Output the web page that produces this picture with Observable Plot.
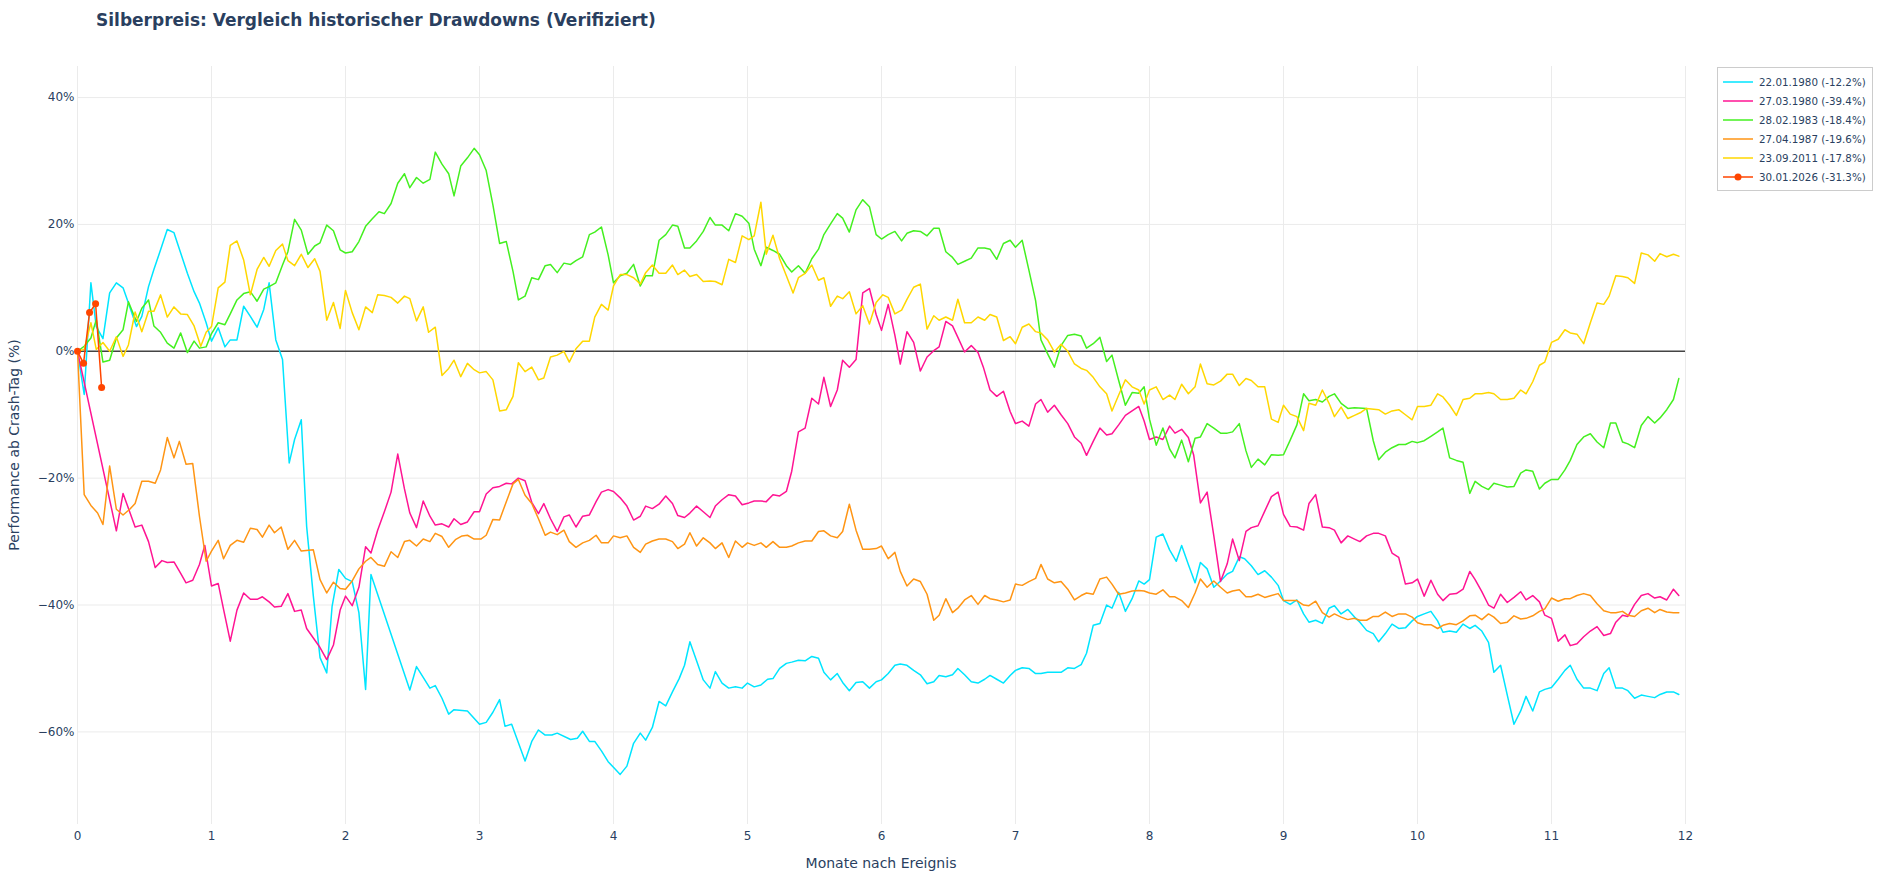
<!DOCTYPE html>
<html>
<head>
<meta charset="utf-8">
<script src="https://cdn.jsdelivr.net/npm/d3@7"></script>
<script src="https://cdn.jsdelivr.net/npm/@observablehq/plot@0.6"></script>
<style>
  html, body { margin: 0; padding: 0; background: #fff; overflow: hidden; }
  #wrap { position: relative; width: 1887px; height: 878px; font-family: "DejaVu Sans", Verdana, sans-serif; color: #2a3f5f; }
  #title { position: absolute; left: 96px; top: 12px; font-size: 17px; font-weight: bold; line-height: 17px; white-space: nowrap; }
  #xtitle { position: absolute; left: 881px; top: 863px; transform: translate(-50%, -50%); font-size: 14px; white-space: nowrap; }
  #ytitle { position: absolute; left: 14px; top: 445px; transform: translate(-50%, -50%) rotate(-90deg); font-size: 14px; white-space: nowrap; }
  #legend { position: absolute; left: 1717px; top: 67px; width: 154px; height: 122px; border: 1px solid #cccccc; background: #fff; font-size: 10.3px; }
  .item { position: absolute; left: 5px; height: 19px; display: flex; align-items: center; white-space: nowrap; }
  .item svg { margin-right: 6px; }
</style>
</head>
<body>
<div id="wrap">
  <div id="chart"></div>
  <div id="title">Silberpreis: Vergleich historischer Drawdowns (Verifiziert)</div>
  <div id="xtitle">Monate nach Ereignis</div>
  <div id="ytitle">Performance ab Crash-Tag (%)</div>
  <div id="legend"></div>
</div>
<script>
const seriesNames = ["22.01.1980 (-12.2%)", "27.03.1980 (-39.4%)", "28.02.1983 (-18.4%)", "27.04.1987 (-19.6%)", "23.09.2011 (-17.8%)", "30.01.2026 (-31.3%)"];
const seriesColors = ["#00e5ff", "#ff1493", "#44f020", "#ff9514", "#ffd700", "#ff4500"];
const xTicks = [0,1,2,3,4,5,6,7,8,9,10,11,12];
const yTicks = [-60,-40,-20,0,20,40];

// [month, performance %]
const s1980a = [[0,0],[0.05,-6.8],[0.1,10.8],[0.14,3.9],[0.19,2.0],[0.24,9.2],[0.29,10.8],[0.34,10.0],[0.38,7.6],[0.44,3.9],[0.48,5.5],[0.53,10.2],[0.57,12.9],[0.62,16.0],[0.67,19.2],[0.72,18.7],[0.77,15.5],[0.82,12.3],[0.87,9.4],[0.91,7.6],[0.96,4.5],[1.0,1.6],[1.05,3.7],[1.1,0.7],[1.14,1.8],[1.19,1.8],[1.24,7.1],[1.29,5.5],[1.34,3.8],[1.39,6.6],[1.43,10.8],[1.48,1.8],[1.53,-1.3],[1.58,-17.6],[1.62,-13.9],[1.67,-10.8],[1.71,-27.6],[1.76,-38.6],[1.81,-48.3],[1.86,-50.7],[1.9,-40.2],[1.95,-34.4],[2.0,-35.8],[2.05,-36.3],[2.1,-41.2],[2.15,-53.3],[2.19,-35.2],[2.48,-53.4],[2.53,-49.7],[2.63,-53.1],[2.67,-52.7],[2.72,-54.7],[2.77,-57.2],[2.81,-56.5],[2.91,-56.7],[3.0,-58.8],[3.05,-58.5],[3.1,-56.9],[3.15,-54.9],[3.19,-59.1],[3.24,-58.8],[3.34,-64.6],[3.39,-61.5],[3.44,-59.7],[3.49,-60.5],[3.54,-60.5],[3.58,-60.2],[3.68,-61.2],[3.73,-61.0],[3.77,-59.9],[3.82,-61.5],[3.86,-61.5],[3.91,-63.0],[3.96,-64.7],[4.01,-65.8],[4.05,-66.7],[4.1,-65.4],[4.15,-61.8],[4.2,-60.2],[4.24,-61.3],[4.29,-59.3],[4.34,-55.2],[4.39,-55.9],[4.44,-53.7],[4.49,-51.6],[4.53,-49.5],[4.57,-45.8],[4.62,-48.8],[4.67,-51.8],[4.72,-53.1],[4.76,-50.5],[4.81,-52.3],[4.86,-53.1],[4.91,-52.9],[4.96,-53.1],[5.0,-52.3],[5.05,-52.9],[5.1,-52.6],[5.15,-51.7],[5.19,-51.6],[5.24,-50.0],[5.29,-49.2],[5.33,-49.0],[5.38,-48.7],[5.43,-48.8],[5.48,-48.1],[5.53,-48.4],[5.57,-50.6],[5.62,-51.8],[5.67,-50.8],[5.71,-52.2],[5.76,-53.5],[5.81,-52.2],[5.86,-52.1],[5.91,-53.1],[5.96,-52.1],[6.0,-51.8],[6.05,-50.8],[6.1,-49.5],[6.14,-49.3],[6.19,-49.5],[6.24,-50.3],[6.29,-51.0],[6.34,-52.4],[6.39,-52.1],[6.43,-51.1],[6.48,-51.3],[6.53,-51.0],[6.57,-50.0],[6.62,-51.0],[6.67,-52.1],[6.72,-52.3],[6.77,-51.7],[6.81,-51.1],[6.86,-51.7],[6.91,-52.3],[6.96,-51.1],[7.0,-50.3],[7.05,-49.9],[7.1,-50.0],[7.15,-50.8],[7.19,-50.8],[7.24,-50.6],[7.29,-50.6],[7.34,-50.6],[7.39,-49.9],[7.44,-50.0],[7.49,-49.4],[7.53,-47.6],[7.58,-43.2],[7.63,-42.9],[7.68,-40.0],[7.72,-40.5],[7.77,-38.0],[7.82,-41.0],[7.87,-39.0],[7.92,-36.2],[7.96,-36.7],[8.0,-36.0],[8.05,-29.3],[8.1,-28.8],[8.15,-31.3],[8.2,-33.1],[8.24,-30.6],[8.29,-33.6],[8.34,-36.5],[8.38,-33.3],[8.43,-34.3],[8.48,-37.2],[8.53,-36.2],[8.58,-35.1],[8.62,-34.7],[8.67,-32.4],[8.71,-32.7],[8.76,-33.8],[8.81,-35.2],[8.86,-34.6],[8.91,-35.6],[8.96,-36.9],[9.0,-39.3],[9.05,-39.9],[9.1,-39.2],[9.15,-41.4],[9.19,-42.7],[9.24,-42.4],[9.29,-42.9],[9.34,-40.5],[9.38,-40.1],[9.43,-41.4],[9.48,-40.7],[9.53,-41.9],[9.57,-42.7],[9.62,-44.0],[9.67,-44.5],[9.71,-45.8],[9.76,-44.5],[9.81,-43.0],[9.86,-43.7],[9.91,-43.6],[9.96,-42.5],[10.0,-41.8],[10.05,-41.4],[10.1,-41.0],[10.15,-42.5],[10.19,-44.3],[10.24,-44.1],[10.29,-44.3],[10.34,-43.0],[10.39,-43.7],[10.43,-43.2],[10.48,-44.1],[10.53,-45.9],[10.57,-50.6],[10.62,-49.5],[10.67,-54.2],[10.72,-58.8],[10.77,-56.7],[10.81,-54.4],[10.86,-56.7],[10.91,-53.7],[10.95,-53.3],[11.0,-53.0],[11.05,-51.7],[11.1,-50.3],[11.14,-49.5],[11.19,-51.7],[11.24,-53.1],[11.29,-53.1],[11.34,-53.5],[11.39,-50.8],[11.43,-49.9],[11.48,-53.1],[11.53,-53.1],[11.57,-53.5],[11.62,-54.7],[11.67,-54.2],[11.72,-54.4],[11.77,-54.6],[11.81,-54.1],[11.86,-53.7],[11.91,-53.7],[11.95,-54.1]];

const s1980b = [[0,0],[0.29,-28.3],[0.34,-22.4],[0.43,-27.7],[0.48,-27.4],[0.53,-30.0],[0.58,-34.1],[0.63,-33.0],[0.67,-33.3],[0.72,-33.2],[0.77,-35.0],[0.81,-36.5],[0.86,-36.1],[0.91,-33.6],[0.95,-30.6],[1.0,-37.0],[1.05,-36.6],[1.09,-40.7],[1.14,-45.7],[1.19,-40.8],[1.24,-38.1],[1.29,-39.1],[1.34,-39.1],[1.38,-38.7],[1.43,-39.5],[1.47,-40.3],[1.52,-40.2],[1.57,-38.2],[1.62,-41.0],[1.67,-40.8],[1.71,-43.7],[1.81,-46.7],[1.86,-48.6],[1.91,-46.3],[1.96,-40.8],[2.0,-38.6],[2.05,-40.1],[2.1,-37.2],[2.15,-30.8],[2.19,-31.8],[2.24,-28.2],[2.29,-25.3],[2.34,-22.2],[2.39,-16.2],[2.44,-21.7],[2.48,-25.5],[2.53,-27.8],[2.58,-23.6],[2.63,-26.0],[2.67,-27.4],[2.72,-27.2],[2.77,-27.7],[2.81,-26.4],[2.86,-27.3],[2.91,-26.9],[2.96,-25.3],[3.0,-25.3],[3.05,-22.5],[3.1,-21.5],[3.15,-21.3],[3.2,-20.8],[3.24,-20.9],[3.29,-20.0],[3.34,-20.4],[3.39,-23.8],[3.44,-25.6],[3.48,-24.0],[3.53,-26.4],[3.58,-28.4],[3.63,-26.1],[3.67,-25.8],[3.72,-27.7],[3.77,-26.0],[3.82,-25.8],[3.87,-23.7],[3.91,-22.2],[3.96,-21.8],[4.0,-22.1],[4.05,-23.1],[4.1,-24.4],[4.15,-26.6],[4.2,-26.0],[4.24,-24.4],[4.29,-24.8],[4.34,-24.1],[4.39,-22.8],[4.44,-24.0],[4.48,-25.9],[4.53,-26.2],[4.57,-25.5],[4.62,-24.4],[4.67,-25.3],[4.72,-26.2],[4.76,-24.4],[4.81,-23.4],[4.86,-22.6],[4.91,-22.8],[4.96,-24.2],[5.01,-23.9],[5.05,-23.6],[5.1,-23.6],[5.14,-23.7],[5.19,-22.6],[5.24,-22.8],[5.29,-22.1],[5.33,-18.9],[5.38,-12.7],[5.43,-12.1],[5.48,-7.4],[5.53,-8.3],[5.57,-4.1],[5.62,-8.7],[5.67,-6.1],[5.71,-1.4],[5.76,-2.5],[5.81,-1.3],[5.86,9.2],[5.91,9.9],[5.96,5.8],[6.0,3.3],[6.05,7.4],[6.1,2.5],[6.14,-2.0],[6.19,3.1],[6.24,1.4],[6.29,-3.1],[6.34,-0.9],[6.39,0.1],[6.43,0.7],[6.48,4.7],[6.53,4.0],[6.57,2.2],[6.62,-0.1],[6.67,0.9],[6.72,-0.2],[6.76,-2.5],[6.81,-6.1],[6.86,-7.1],[6.91,-6.3],[6.96,-9.5],[7.0,-11.4],[7.05,-11.0],[7.1,-11.8],[7.15,-8.3],[7.19,-7.6],[7.24,-9.6],[7.29,-8.5],[7.34,-10.0],[7.39,-11.4],[7.44,-13.5],[7.49,-14.5],[7.53,-16.4],[7.58,-14.2],[7.63,-12.1],[7.68,-13.2],[7.72,-13.0],[7.77,-11.6],[7.82,-10.1],[7.87,-9.4],[7.92,-8.7],[7.96,-11.0],[8.0,-13.9],[8.05,-13.5],[8.1,-13.9],[8.15,-11.8],[8.19,-12.9],[8.24,-12.3],[8.29,-13.6],[8.33,-16.4],[8.38,-23.9],[8.43,-22.2],[8.48,-29.1],[8.53,-36.3],[8.58,-33.5],[8.62,-29.6],[8.67,-33.0],[8.72,-28.4],[8.76,-27.8],[8.81,-27.5],[8.86,-25.2],[8.91,-22.9],[8.96,-22.2],[9.0,-25.7],[9.05,-27.6],[9.1,-27.7],[9.15,-28.2],[9.19,-24.0],[9.24,-22.6],[9.29,-27.7],[9.34,-27.8],[9.38,-28.2],[9.43,-30.2],[9.48,-29.1],[9.53,-29.6],[9.57,-30.0],[9.62,-29.1],[9.67,-28.7],[9.71,-28.7],[9.76,-29.1],[9.81,-31.8],[9.86,-32.5],[9.91,-36.7],[9.96,-36.5],[10.0,-35.9],[10.05,-38.6],[10.1,-36.1],[10.15,-38.3],[10.19,-39.3],[10.24,-38.3],[10.29,-38.2],[10.34,-37.5],[10.39,-34.7],[10.43,-36.0],[10.48,-37.9],[10.53,-40.0],[10.57,-40.5],[10.62,-38.3],[10.67,-39.6],[10.72,-38.8],[10.77,-37.9],[10.81,-39.2],[10.86,-38.5],[10.91,-39.5],[10.95,-41.6],[11.0,-42.1],[11.05,-45.7],[11.1,-44.7],[11.14,-46.4],[11.19,-46.1],[11.24,-45.0],[11.29,-44.1],[11.34,-43.4],[11.39,-44.8],[11.44,-44.5],[11.48,-42.7],[11.53,-41.6],[11.57,-41.8],[11.62,-39.9],[11.67,-38.5],[11.72,-38.2],[11.77,-38.9],[11.81,-38.7],[11.86,-39.2],[11.91,-37.5],[11.95,-38.5]];

const s1983 = [[0,0],[0.05,0.8],[0.1,2.1],[0.14,5.0],[0.19,-1.7],[0.24,-1.4],[0.29,2.1],[0.34,3.4],[0.38,7.8],[0.44,4.7],[0.48,6.8],[0.53,8.1],[0.57,4.0],[0.62,3.0],[0.67,1.3],[0.72,0.5],[0.77,2.9],[0.82,-0.2],[0.87,1.6],[0.91,0.5],[0.96,0.7],[1.0,2.8],[1.05,4.5],[1.1,4.2],[1.14,5.9],[1.19,8.1],[1.24,9.1],[1.29,9.4],[1.34,7.9],[1.39,9.8],[1.43,10.2],[1.48,10.8],[1.53,13.6],[1.57,15.7],[1.62,20.8],[1.67,19.1],[1.72,15.3],[1.77,16.6],[1.81,17.1],[1.86,19.9],[1.91,19.0],[1.96,16.0],[2.0,15.5],[2.05,15.7],[2.1,17.3],[2.15,19.7],[2.2,20.9],[2.25,22.0],[2.29,21.7],[2.34,23.3],[2.39,26.5],[2.44,28.0],[2.48,25.8],[2.53,27.4],[2.58,26.5],[2.63,27.1],[2.67,31.4],[2.72,29.5],[2.77,28.0],[2.81,24.5],[2.86,29.2],[2.91,30.5],[2.96,32.0],[3.0,31.0],[3.05,28.5],[3.1,23.1],[3.15,17.0],[3.2,17.3],[3.25,12.6],[3.29,8.1],[3.34,8.7],[3.39,11.6],[3.44,11.3],[3.49,13.5],[3.53,13.7],[3.58,12.4],[3.63,13.9],[3.68,13.7],[3.72,14.3],[3.77,14.9],[3.82,18.4],[3.86,18.8],[3.91,19.6],[3.96,15.2],[4.0,10.8],[4.05,11.9],[4.1,12.3],[4.15,13.7],[4.2,10.3],[4.24,11.9],[4.29,11.9],[4.34,17.5],[4.39,18.4],[4.44,19.9],[4.48,19.7],[4.53,16.3],[4.57,16.3],[4.62,17.4],[4.67,18.9],[4.72,21.1],[4.76,19.9],[4.81,19.9],[4.86,19.0],[4.91,21.7],[4.96,21.3],[5.01,20.2],[5.05,16.1],[5.1,13.5],[5.14,16.4],[5.19,15.9],[5.24,15.3],[5.29,13.5],[5.33,12.5],[5.38,13.5],[5.43,12.3],[5.48,14.6],[5.53,16.1],[5.57,18.4],[5.62,20.1],[5.67,21.7],[5.71,21.0],[5.76,18.8],[5.81,22.3],[5.86,23.9],[5.91,22.8],[5.96,18.4],[6.0,17.7],[6.05,18.4],[6.1,18.9],[6.15,17.4],[6.19,18.6],[6.24,19.0],[6.29,18.9],[6.34,18.2],[6.39,19.4],[6.43,19.4],[6.48,15.7],[6.53,14.8],[6.57,13.7],[6.62,14.2],[6.67,14.7],[6.72,16.3],[6.77,16.3],[6.81,16.1],[6.86,14.5],[6.91,17.0],[6.96,17.5],[7.0,16.4],[7.05,17.5],[7.1,12.8],[7.15,8.0],[7.19,1.8],[7.24,-0.4],[7.29,-2.5],[7.34,0.9],[7.39,2.5],[7.44,2.7],[7.49,2.4],[7.53,0.5],[7.58,1.2],[7.63,2.2],[7.68,-1.6],[7.72,-0.6],[7.77,-4.6],[7.82,-8.5],[7.87,-6.5],[7.92,-6.6],[7.96,-5.6],[8.0,-10.7],[8.05,-14.8],[8.1,-12.1],[8.15,-15.4],[8.19,-16.8],[8.24,-14.0],[8.29,-17.4],[8.34,-13.7],[8.38,-13.5],[8.43,-11.4],[8.48,-12.1],[8.53,-12.9],[8.58,-12.9],[8.62,-12.7],[8.67,-11.4],[8.72,-15.7],[8.76,-18.3],[8.81,-17.0],[8.86,-17.9],[8.91,-16.3],[8.96,-16.4],[9.0,-16.3],[9.05,-14.0],[9.1,-11.6],[9.15,-6.7],[9.19,-7.8],[9.24,-7.6],[9.29,-8.0],[9.34,-7.1],[9.38,-6.7],[9.43,-8.2],[9.48,-9.0],[9.53,-8.9],[9.62,-9.0],[9.67,-14.1],[9.71,-17.1],[9.76,-15.9],[9.81,-15.2],[9.86,-14.7],[9.91,-14.7],[9.96,-14.2],[10.0,-14.4],[10.05,-14.1],[10.1,-13.4],[10.15,-12.7],[10.19,-12.1],[10.24,-16.8],[10.29,-17.2],[10.34,-17.5],[10.39,-22.4],[10.43,-20.5],[10.48,-21.3],[10.53,-21.8],[10.57,-20.8],[10.62,-21.1],[10.67,-21.4],[10.72,-21.3],[10.77,-19.2],[10.81,-18.7],[10.86,-18.9],[10.91,-21.7],[10.95,-20.8],[11.0,-20.2],[11.05,-20.2],[11.1,-18.7],[11.14,-17.2],[11.19,-14.7],[11.24,-13.5],[11.29,-13.0],[11.34,-14.3],[11.39,-15.2],[11.44,-11.3],[11.48,-11.3],[11.53,-14.3],[11.57,-14.6],[11.62,-15.2],[11.67,-11.7],[11.72,-10.3],[11.77,-11.3],[11.81,-10.5],[11.86,-9.2],[11.91,-7.6],[11.95,-4.3]];

const s1987 = [[0,0],[0.05,-22.6],[0.1,-24.3],[0.15,-25.5],[0.19,-27.3],[0.24,-18.1],[0.29,-24.9],[0.34,-25.8],[0.39,-24.9],[0.43,-24.0],[0.48,-20.5],[0.53,-20.5],[0.58,-20.8],[0.62,-18.7],[0.67,-13.6],[0.72,-16.8],[0.76,-14.2],[0.81,-17.8],[0.86,-17.7],[0.91,-26.0],[0.96,-33.1],[1.0,-31.5],[1.05,-29.8],[1.09,-32.7],[1.14,-30.6],[1.19,-29.8],[1.24,-30.1],[1.29,-27.9],[1.34,-28.1],[1.38,-29.3],[1.43,-27.4],[1.47,-28.6],[1.52,-27.7],[1.57,-31.2],[1.62,-29.8],[1.67,-31.5],[1.76,-31.3],[1.81,-36.0],[1.86,-38.1],[1.91,-36.4],[1.96,-37.4],[2.0,-37.5],[2.05,-36.2],[2.1,-34.3],[2.15,-33.1],[2.19,-32.5],[2.24,-33.6],[2.29,-33.9],[2.34,-31.6],[2.39,-32.5],[2.44,-30.0],[2.48,-29.8],[2.53,-30.7],[2.58,-29.6],[2.63,-30.0],[2.67,-28.7],[2.72,-29.2],[2.77,-30.9],[2.82,-29.7],[2.87,-29.1],[2.91,-29.0],[2.96,-29.6],[3.01,-29.6],[3.05,-29.0],[3.1,-26.5],[3.15,-26.6],[3.2,-23.7],[3.25,-20.9],[3.29,-20.2],[3.34,-22.7],[3.39,-24.0],[3.44,-26.4],[3.49,-29.0],[3.53,-28.5],[3.58,-28.9],[3.63,-28.2],[3.67,-30.0],[3.72,-30.9],[3.77,-30.2],[3.82,-29.8],[3.87,-29.0],[3.91,-30.2],[3.96,-30.2],[4.0,-29.1],[4.05,-29.4],[4.1,-29.1],[4.15,-30.9],[4.2,-31.7],[4.24,-30.4],[4.29,-29.9],[4.34,-29.6],[4.39,-29.6],[4.44,-30.0],[4.48,-31.1],[4.53,-30.4],[4.57,-28.6],[4.62,-30.7],[4.67,-29.4],[4.72,-30.2],[4.76,-31.1],[4.81,-30.2],[4.86,-32.5],[4.91,-29.9],[4.96,-30.9],[5.0,-30.2],[5.05,-30.6],[5.1,-30.2],[5.14,-30.9],[5.19,-30.0],[5.24,-30.9],[5.29,-30.9],[5.33,-30.7],[5.38,-30.2],[5.43,-29.9],[5.48,-29.9],[5.53,-28.4],[5.57,-28.3],[5.62,-29.1],[5.67,-29.4],[5.71,-28.4],[5.76,-24.1],[5.81,-28.2],[5.86,-31.2],[5.91,-31.2],[5.96,-31.1],[6.0,-30.7],[6.05,-32.7],[6.1,-31.7],[6.14,-34.7],[6.19,-37.0],[6.24,-35.9],[6.29,-36.3],[6.34,-38.3],[6.39,-42.4],[6.43,-41.6],[6.48,-39.0],[6.53,-41.2],[6.57,-40.5],[6.62,-39.2],[6.67,-38.5],[6.72,-39.9],[6.77,-38.5],[6.81,-39.0],[6.86,-39.2],[6.91,-39.5],[6.96,-39.2],[7.0,-36.7],[7.05,-36.9],[7.1,-36.3],[7.15,-35.8],[7.19,-33.6],[7.24,-35.9],[7.29,-36.5],[7.34,-36.3],[7.39,-37.5],[7.44,-39.2],[7.49,-38.5],[7.53,-38.1],[7.58,-38.3],[7.63,-35.9],[7.68,-35.6],[7.72,-36.7],[7.77,-38.3],[7.82,-38.1],[7.87,-37.8],[7.92,-37.7],[7.96,-37.8],[8.0,-38.1],[8.05,-38.3],[8.1,-37.6],[8.15,-38.7],[8.19,-38.7],[8.24,-39.3],[8.29,-40.4],[8.34,-38.1],[8.38,-35.9],[8.43,-37.2],[8.48,-36.2],[8.53,-37.2],[8.58,-38.1],[8.62,-37.8],[8.67,-37.6],[8.72,-38.7],[8.76,-38.7],[8.81,-38.3],[8.86,-38.8],[8.91,-38.5],[8.96,-38.2],[9.0,-39.3],[9.05,-39.3],[9.1,-39.3],[9.15,-40.0],[9.19,-40.1],[9.24,-39.4],[9.29,-41.2],[9.34,-41.9],[9.38,-41.4],[9.43,-41.9],[9.48,-42.3],[9.53,-42.1],[9.57,-42.4],[9.62,-42.4],[9.67,-41.8],[9.71,-41.8],[9.76,-41.1],[9.81,-41.8],[9.86,-41.4],[9.91,-41.4],[9.96,-41.9],[10.0,-42.8],[10.05,-43.1],[10.1,-43.1],[10.15,-43.7],[10.19,-43.2],[10.24,-42.9],[10.29,-43.1],[10.34,-42.5],[10.39,-41.7],[10.43,-41.6],[10.48,-42.3],[10.53,-41.4],[10.57,-41.9],[10.62,-42.9],[10.67,-42.7],[10.72,-41.7],[10.77,-42.2],[10.81,-42.1],[10.86,-41.7],[10.91,-41.0],[10.95,-40.6],[11.0,-38.9],[11.05,-39.4],[11.1,-39.0],[11.14,-39.0],[11.19,-38.5],[11.24,-38.2],[11.29,-38.5],[11.34,-39.8],[11.39,-40.9],[11.44,-41.2],[11.48,-41.2],[11.53,-41.0],[11.57,-41.6],[11.62,-41.8],[11.67,-40.9],[11.72,-40.5],[11.77,-41.2],[11.81,-40.7],[11.86,-41.1],[11.91,-41.2],[11.95,-41.2]];

const s2011 = [[0,0],[0.05,0.3],[0.1,4.5],[0.14,0.3],[0.19,1.4],[0.24,0],[0.29,2.3],[0.34,-0.8],[0.38,1.0],[0.43,6.2],[0.48,3.1],[0.53,6.3],[0.57,6.3],[0.62,8.9],[0.67,5.4],[0.72,7.0],[0.77,5.9],[0.82,5.8],[0.87,4.0],[0.92,0.8],[0.96,3.0],[1.0,3.9],[1.05,10.0],[1.1,10.9],[1.14,16.7],[1.19,17.4],[1.24,14.4],[1.29,8.9],[1.34,12.9],[1.39,14.8],[1.43,13.4],[1.48,15.9],[1.53,16.9],[1.57,14.3],[1.62,13.5],[1.67,15.3],[1.72,13.2],[1.77,14.6],[1.81,12.6],[1.86,4.9],[1.91,7.7],[1.96,3.6],[2.0,9.6],[2.05,6.1],[2.1,3.4],[2.15,7.0],[2.2,6.1],[2.24,8.9],[2.29,8.8],[2.34,8.5],[2.39,7.6],[2.44,8.7],[2.48,8.3],[2.53,4.8],[2.58,7.0],[2.62,3.0],[2.67,3.8],[2.72,-3.8],[2.77,-2.7],[2.81,-1.4],[2.86,-4.0],[2.91,-1.9],[2.96,-2.9],[3.0,-3.4],[3.05,-3.2],[3.1,-4.5],[3.15,-9.4],[3.2,-9.2],[3.25,-7.1],[3.29,-1.8],[3.34,-3.2],[3.39,-2.5],[3.44,-4.5],[3.48,-4.2],[3.53,-0.9],[3.58,-0.6],[3.63,0],[3.67,-1.7],[3.72,0.4],[3.77,1.6],[3.82,1.6],[3.86,5.4],[3.91,7.4],[3.96,6.5],[4.0,10.3],[4.05,12.1],[4.1,12.1],[4.15,11.6],[4.2,10.6],[4.24,12.4],[4.29,13.6],[4.34,12.3],[4.39,12.3],[4.44,13.6],[4.48,12.1],[4.53,12.8],[4.57,11.8],[4.62,12.1],[4.67,11.0],[4.72,11.1],[4.76,11.0],[4.81,10.5],[4.86,14.5],[4.91,14.0],[4.96,18.2],[5.01,17.6],[5.05,18.2],[5.1,23.5],[5.14,15.3],[5.19,18.3],[5.24,14.6],[5.29,11.9],[5.34,9.2],[5.38,11.6],[5.43,12.3],[5.48,13.6],[5.53,11.2],[5.57,11.6],[5.62,7.1],[5.67,8.7],[5.71,8.3],[5.76,9.4],[5.81,5.9],[5.86,7.2],[5.91,4.3],[5.96,7.7],[6.01,8.9],[6.05,8.5],[6.1,5.9],[6.15,6.5],[6.19,8.2],[6.24,10.1],[6.29,10.6],[6.34,3.5],[6.39,5.6],[6.43,4.9],[6.48,5.4],[6.53,4.9],[6.57,8.2],[6.62,4.5],[6.67,4.5],[6.72,5.4],[6.77,4.9],[6.81,5.8],[6.86,5.4],[6.91,1.7],[6.96,2.3],[7.0,1.2],[7.05,3.8],[7.1,4.3],[7.15,3.1],[7.19,2.9],[7.24,1.8],[7.29,-0.1],[7.34,1.1],[7.39,0],[7.44,-2.0],[7.49,-2.7],[7.53,-3.0],[7.58,-4.1],[7.63,-5.6],[7.68,-6.7],[7.72,-9.4],[7.77,-6.9],[7.82,-4.5],[7.87,-5.6],[7.92,-6.1],[7.96,-8.3],[8.0,-6.1],[8.05,-5.6],[8.1,-7.6],[8.15,-6.9],[8.19,-7.6],[8.24,-5.2],[8.29,-6.7],[8.34,-5.6],[8.38,-2.0],[8.43,-5.1],[8.48,-5.3],[8.53,-4.7],[8.58,-3.6],[8.62,-3.6],[8.67,-5.4],[8.72,-4.3],[8.76,-4.6],[8.81,-5.6],[8.86,-5.6],[8.91,-10.7],[8.96,-11.2],[9.0,-8.5],[9.05,-9.9],[9.1,-10.3],[9.15,-12.5],[9.19,-8.2],[9.24,-8.5],[9.29,-6.1],[9.34,-8.2],[9.38,-10.3],[9.43,-8.8],[9.48,-10.6],[9.53,-10.1],[9.58,-9.6],[9.62,-9.0],[9.71,-9.2],[9.76,-9.9],[9.81,-9.4],[9.86,-9.2],[9.91,-10.0],[9.96,-10.8],[10.0,-8.7],[10.05,-8.7],[10.1,-8.5],[10.15,-6.7],[10.19,-7.2],[10.24,-8.5],[10.29,-10.1],[10.34,-7.6],[10.39,-7.4],[10.43,-6.7],[10.48,-6.7],[10.53,-6.5],[10.57,-6.7],[10.62,-7.6],[10.67,-7.6],[10.72,-7.4],[10.77,-6.1],[10.81,-6.7],[10.86,-4.8],[10.91,-2.2],[10.95,-1.7],[11.0,1.4],[11.05,1.9],[11.1,3.4],[11.14,2.9],[11.19,2.7],[11.24,1.2],[11.29,4.5],[11.34,7.6],[11.39,7.4],[11.43,8.7],[11.48,11.9],[11.53,11.8],[11.57,11.6],[11.62,10.7],[11.67,15.5],[11.72,15.2],[11.77,14.2],[11.81,15.4],[11.86,14.9],[11.91,15.3],[11.95,15.0]];

const s2026 = [[0,0],[0.045,-1.9],[0.09,6.1],[0.135,7.5],[0.18,-5.7]];

const allSeries = [s1980a, s1980b, s1983, s1987, s2011, s2026];

const lineMarks = allSeries.map((s, i) => Plot.line(s, {x: d => d[0], y: d => d[1], stroke: seriesColors[i], strokeWidth: 1.5, strokeLinejoin: "round"}));

const chart = Plot.plot({
  width: 1887,
  height: 878,
  marginLeft: 77,
  marginRight: 202,
  marginTop: 66,
  marginBottom: 54,
  style: {fontFamily: "'DejaVu Sans', Verdana, sans-serif", fontSize: "12px", color: "#2a3f5f", background: "#fff"},
  x: {domain: [0, 12]},
  y: {domain: [-74.6, 44.9]},
  marks: [
    Plot.gridX(xTicks, {stroke: "#ebebeb", strokeOpacity: 1, strokeWidth: 1}),
    Plot.gridY(yTicks, {stroke: "#ebebeb", strokeOpacity: 1, strokeWidth: 1}),
    Plot.axisX(xTicks, {tickSize: 0, tickPadding: 7, tickFormat: d => String(d), label: null, fill: "#2a3f5f"}),
    Plot.axisY(yTicks, {tickSize: 0, tickPadding: 3, tickFormat: d => (d < 0 ? "\u2212" : "") + Math.abs(d) + "%", label: null, fill: "#2a3f5f"}),
    Plot.ruleY([0], {stroke: "#444", strokeWidth: 1.5}),
    ...lineMarks,
    Plot.dot(s2026, {x: d => d[0], y: d => d[1], r: 3.5, fill: seriesColors[5], stroke: "none"})
  ]
});
document.getElementById("chart").appendChild(chart);

// legend
const legend = document.getElementById("legend");
seriesNames.forEach((name, i) => {
  const row = document.createElement("div");
  row.className = "item";
  row.style.top = (4 + i * 19) + "px";
  const dot = i === 5 ? `<circle cx="15" cy="5" r="3.5" fill="${seriesColors[i]}"/>` : "";
  row.innerHTML = `<svg width="30" height="10"><line x1="0" y1="5" x2="30" y2="5" stroke="${seriesColors[i]}" stroke-width="1.5"/>${dot}</svg><span>${name}</span>`;
  legend.appendChild(row);
});
</script>
</body>
</html>
